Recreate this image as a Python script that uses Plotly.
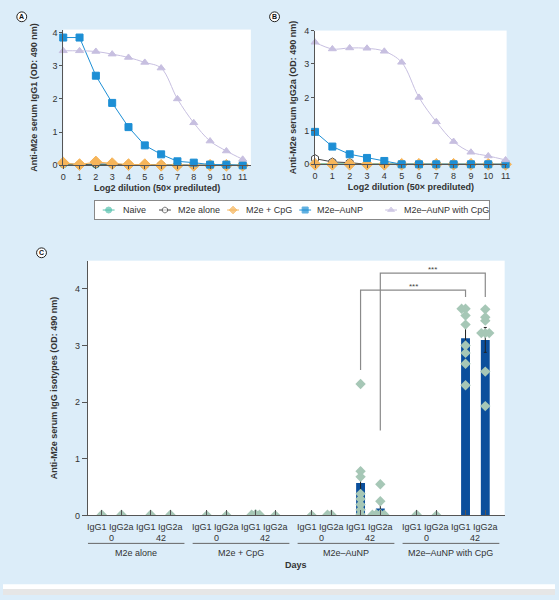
import plotly.graph_objects as go

# ---------------- Data ----------------
dilution = list(range(12))
dilution_ticks = [str(i) for i in dilution]

series_names = ["Naive", "M2e alone", "M2e + CpG", "M2e–AuNP", "M2e–AuNP with CpG"]

# Panel A: IgG1
a_naive = [0.03, 0.02, 0.02, 0.03, 0.02, 0.01, 0.01, 0.01, 0.0, 0.0, 0.0, 0.0]
a_alone = [0.05, 0.02, 0.04, 0.04, 0.02, 0.01, 0.01, 0.0, 0.0, 0.0, 0.0, 0.0]
a_cpg = [0.07, 0.02, 0.10, 0.05, 0.02, 0.02, 0.0, 0.0, 0.0, 0.0, 0.0, 0.0]
a_aunp = [3.85, 3.85, 2.70, 1.88, 1.15, 0.60, 0.33, 0.12, 0.08, 0.02, 0.02, 0.0]
a_aunp_cpg = [3.45, 3.45, 3.43, 3.35, 3.25, 3.10, 2.93, 2.00, 1.28, 0.73, 0.43, 0.18]

# Panel B: IgG2a
b_naive = [0.02, 0.02, 0.02, 0.01, 0.01, 0.0, 0.0, 0.0, 0.0, 0.0, 0.0, 0.0]
b_alone = [0.17, 0.07, 0.05, 0.0, 0.0, 0.0, 0.0, 0.0, 0.0, 0.0, 0.0, 0.0]
b_cpg = [0.0, 0.0, 0.0, 0.0, 0.0, 0.0, 0.0, 0.0, 0.0, 0.0, 0.0, 0.0]
b_aunp = [0.97, 0.53, 0.30, 0.19, 0.10, 0.0, 0.0, 0.0, 0.0, 0.0, 0.0, 0.0]
b_aunp_cpg = [3.65, 3.45, 3.48, 3.47, 3.38, 3.05, 2.00, 1.27, 0.68, 0.36, 0.25, 0.13]

# Panel C
groups = ["M2e alone", "M2e + CpG", "M2e–AuNP", "M2e–AuNP with CpG"]
days = ["0", "42"]
isotypes = ["IgG1", "IgG2a"]
bar_means = [0, 0, 0, 0,
             0, 0, 0.01, 0,
             0, 0, 0.57, 0.12,
             0, 0, 3.13, 3.10]
bar_errors = [0, 0, 0, 0,
              0, 0, 0, 0,
              0, 0, 0.26, 0.08,
              0, 0, 0.22, 0.22]
points = [
    [0.01], [0.01], [0.01], [0.01],
    [0.0], [0.0], [0.02, 0.01, 0.01], [0.0],
    [0.0], [0.01, 0.01], [2.32, 0.78, 0.68, 0.38, 0.29, 0.19, 0.10, 0.02],
    [0.55, 0.25, 0.02, 0.02, 0.01, 0.01],
    [0.01], [0.0], [3.65, 3.65, 3.53, 3.37, 3.00, 2.87, 2.68, 2.30],
    [3.64, 3.50, 3.44, 3.22, 3.22, 3.22, 2.54, 1.93],
]
sig_label = "***"

# ---------------- Style ----------------
BG = "#dcedf9"
FONT = "Liberation Sans, Arial, sans-serif"
TXT = "#333333"
AX = "#555555"
C_NAIVE = "#55c1ad"
C_ALONE = "#444444"
C_CPG = "#f6b55a"
C_AUNP = "#1d8fd5"
C_AUNPCPG = "#c7bfe0"
C_BAR = "#0b4f9c"
C_DOT = "#a6c7b6"

W, H = 559, 600


def px(x):
    return x / W


def py(y):
    return 1 - y / H


fig = go.Figure()

styles = [
    dict(symbol="circle", size=7, color=C_NAIVE, line=dict(color=C_NAIVE, width=1)),
    dict(symbol="hexagon", size=8, color="white", line=dict(color=C_ALONE, width=1)),
    dict(symbol="diamond", size=9, color=C_CPG, line=dict(color=C_CPG, width=1)),
    dict(symbol="square", size=7, color=C_AUNP, line=dict(color=C_AUNP, width=1)),
    dict(symbol="triangle-up", size=7, color=C_AUNPCPG, line=dict(color=C_AUNPCPG, width=1)),
]
line_cols = [C_NAIVE, C_ALONE, C_CPG, C_AUNP, C_AUNPCPG]
shapes_line = ["linear", "linear", "linear", "linear", "spline"]

for ax, data in (("", [a_naive, a_alone, a_cpg, a_aunp, a_aunp_cpg]),
                 ("2", [b_naive, b_alone, b_cpg, b_aunp, b_aunp_cpg])):
    for i, ys in enumerate(data):
        fig.add_trace(go.Scatter(
            x=dilution, y=ys, mode="lines+markers", name=series_names[i],
            marker=styles[i], line=dict(color=line_cols[i], width=1, shape=shapes_line[i]),
            xaxis="x" + ax, yaxis="y" + ax, showlegend=False, cliponaxis=False))

# Panel C positions
FIRST, STEP = 14, 106.3
OFFS = [0, 20, 49.5, 69.5]
xpos = []
labels = []
for g in range(len(groups)):
    for k in range(4):
        xpos.append(FIRST + STEP * g + OFFS[k])
        labels.append(isotypes[k % 2])

fig.add_trace(go.Bar(
    x=xpos, y=bar_means, width=9, marker=dict(color=C_BAR, line=dict(width=0)),
    error_y=dict(type="data", array=bar_errors, color="#222222", thickness=1, width=1.5),
    xaxis="x3", yaxis="y3", showlegend=False))

dx, dy = [], []
for i, vals in enumerate(points):
    seen = []
    for v in vals:
        n = sum(1 for s in seen if abs(s - v) < 0.06)
        seen.append(v)
        off = [0, -4, 4, -8, 8, -2, 2][n % 7]
        dx.append(xpos[i] + off)
        dy.append(v)
fig.add_trace(go.Scatter(
    x=dx, y=dy, mode="markers",
    marker=dict(symbol="diamond", size=8, color=C_DOT, line=dict(width=0)),
    xaxis="x3", yaxis="y3", showlegend=False))

# significance brackets
brackets = [
    (10, 14, 2.57, 3.86, 3.98),
    (11, 15, 1.50, 3.86, 4.28),
]
shapes = []
annotations = []
for (i0, i1, yl, yr, yt) in brackets:
    shapes.append(dict(type="path", xref="x3", yref="y3",
                       path=f"M {xpos[i0]},{yl} L {xpos[i0]},{yt} L {xpos[i1]},{yt} L {xpos[i1]},{yr}",
                       line=dict(color="#8a8a8a", width=1.2)))
    annotations.append(dict(x=(xpos[i0] + xpos[i1]) / 2, y=yt, xref="x3", yref="y3",
                            text=sig_label, showarrow=False, xanchor="center", yanchor="bottom",
                            font=dict(size=8, color="#444444", family=FONT), yshift=-3))

# isotype pair labels, day + group labels
for g, name in enumerate(groups):
    base = FIRST + STEP * g
    for d in range(2):
        mid = base + 10 + 49.5 * d
        annotations.append(dict(x=mid - 1, y=py(531), xref="x3", yref="paper",
                                text=f"{isotypes[0]} {isotypes[1]}", showarrow=False,
                                xanchor="center", yanchor="middle",
                                font=dict(size=9, color=TXT, family=FONT)))
        annotations.append(dict(x=mid, y=py(542), xref="x3", yref="paper",
                                text=days[d], showarrow=False, xanchor="center", yanchor="middle",
                                font=dict(size=9, color=TXT, family=FONT)))
    cx = base + 34.75
    shapes.append(dict(type="line", xref="x3", yref="paper", x0=cx - 49, x1=cx + 49,
                       y0=py(547.5), y1=py(547.5), line=dict(color="#666666", width=1)))
    annotations.append(dict(x=cx, y=py(557), xref="x3", yref="paper", text=name,
                            showarrow=False, xanchor="center", yanchor="middle",
                            font=dict(size=9, color=TXT, family=FONT)))
annotations.append(dict(x=px(297), y=py(569), xref="paper", yref="paper", text="<b>Days</b>",
                        showarrow=False, xanchor="center", yanchor="middle",
                        font=dict(size=9, color=TXT, family=FONT)))

# panel letters
for letter, cx, cy in (("A", 19, 12), ("B", 275, 12), ("C", 39, 252)):
    shapes.append(dict(type="circle", xref="paper", yref="paper",
                       x0=px(cx - 5), x1=px(cx + 5), y0=py(cy + 5), y1=py(cy - 5),
                       line=dict(color="#222222", width=1), fillcolor="white"))
    annotations.append(dict(x=px(cx), y=py(cy), xref="paper", yref="paper",
                            text=f"<b>{letter}</b>", showarrow=False,
                            xanchor="center", yanchor="middle",
                            font=dict(size=7, color="#111111", family=FONT)))

# bottom strip
shapes.append(dict(type="rect", xref="paper", yref="paper", x0=0, x1=1, y0=0, y1=py(589),
                   fillcolor="white", line=dict(width=0), layer="below"))
shapes.append(dict(type="rect", xref="paper", yref="paper", x0=0, x1=1, y0=0, y1=py(594),
                   fillcolor="#e6e6e6", line=dict(width=0), layer="below"))

# legend (manual, in its own boxed axes)
leg_marker_x = [14, 71, 140, 213, 300]
leg_text_x = [26, 82, 151, 223, 311]
for i in range(5):
    fig.add_trace(go.Scatter(
        x=[leg_marker_x[i] - 6, leg_marker_x[i], leg_marker_x[i] + 6], y=[9.5, 9.5, 9.5],
        mode="lines+markers", line=dict(color=line_cols[i], width=1),
        marker=dict(symbol=styles[i]["symbol"], size=[0, 6, 0], color=styles[i]["color"],
                    line=styles[i]["line"]),
        xaxis="x4", yaxis="y4", showlegend=False, hoverinfo="skip"))
    annotations.append(dict(x=leg_text_x[i], y=9.5, xref="x4", yref="y4", text=series_names[i],
                            xanchor="left", yanchor="middle", showarrow=False,
                            font=dict(size=9, color=TXT, family=FONT)))

common_tick = dict(tickfont=dict(size=9, color=TXT, family=FONT), showline=True,
                   linecolor=AX, linewidth=1, ticks="outside", tickcolor=AX,
                   ticklen=3, showgrid=False, zeroline=False)
title_font = dict(size=9, color=TXT, family=FONT)

fig.update_layout(
    width=W, height=H, margin=dict(l=0, r=0, t=0, b=0),
    paper_bgcolor=BG, plot_bgcolor="white", font=dict(family=FONT, color=TXT),
    barmode="overlay",
    xaxis=dict(domain=[px(61), px(251)], range=[0, 11.5], tickvals=dilution, ticktext=dilution_ticks,
               title=dict(text="<b>Log2 dilution (50× prediluted)</b>", font=title_font, standoff=3),
               anchor="y", tickangle=0, **common_tick),
    yaxis=dict(domain=[py(163), py(25)], range=[0, 4.09], tickvals=[0, 1, 2, 3, 4],
               title=dict(text="<b>Anti-M2e serum IgG1 (OD: 490 nm)</b>", font=title_font, standoff=13),
               anchor="x", **common_tick),
    xaxis2=dict(domain=[px(316), px(510)], range=[0, 11.06], tickvals=dilution, ticktext=dilution_ticks,
                title=dict(text="<b>Log2 dilution (50× prediluted)</b>", font=title_font, standoff=3),
                anchor="y2", tickangle=0, **common_tick),
    yaxis2=dict(domain=[py(162), py(26)], range=[0, 4.0], tickvals=[0, 1, 2, 3, 4],
                title=dict(text="<b>Anti-M2e serum IgG2a (OD: 490 nm)</b>", font=title_font, standoff=6),
                anchor="x2", **common_tick),
    xaxis3=dict(domain=[px(86), px(508)], range=[0, 422], tickvals=xpos, showticklabels=False,
                anchor="y3", showline=True,
                linecolor=AX, linewidth=1, ticks="inside", ticklen=5, tickcolor=AX,
                showgrid=False, zeroline=False),
    yaxis3=dict(domain=[py(519), py(260)], range=[0, 4.5], tickvals=[0, 1, 2, 3, 4],
                title=dict(text="<b>Anti-M2e serum IgG isotypes (OD: 490 nm)</b>", font=title_font, standoff=15),
                anchor="x3", **{**common_tick, "ticklen": 5}),
    xaxis4=dict(domain=[px(93), px(492)], range=[0, 399], visible=True, showticklabels=False,
                ticks="", showgrid=False, zeroline=False, showline=True, mirror=True,
                linecolor="#888888", linewidth=1, anchor="y4", fixedrange=True),
    yaxis4=dict(domain=[py(218), py(199)], range=[0, 19], showticklabels=False, ticks="",
                showgrid=False, zeroline=False, showline=True, mirror=True,
                linecolor="#888888", linewidth=1, anchor="x4", fixedrange=True),
    shapes=shapes, annotations=annotations, showlegend=False,
)

fig.write_html("out.html", config={"displayModeBar": False},
               post_script="document.body.style.margin='0';document.body.style.overflow='hidden';")
